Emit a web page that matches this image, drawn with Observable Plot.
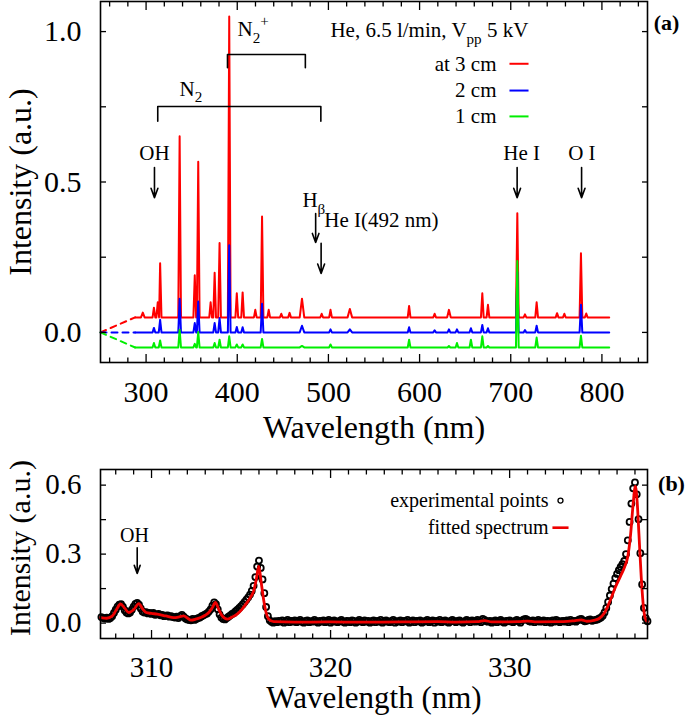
<!DOCTYPE html>
<html><head><meta charset="utf-8">
<script src="https://cdn.jsdelivr.net/npm/d3@7"></script>
<script src="https://cdn.jsdelivr.net/npm/@observablehq/plot@0.6"></script>
<style>
body{margin:0;background:#fff;}
#chart{width:685px;height:720px;background:#fff;}
#chart svg{display:block;}
</style></head><body><div id="chart"></div>
<script>
// ---------------- Panel (a) data ----------------
const seriesNames = ["at 3 cm", "2 cm", "1 cm"];
const seriesColors = ["#ff0000", "#0000ff", "#00ee00"];
const seriesBaselines = [0.05, 0, -0.05];
const spectrumRange = [288, 808];
const dashStart = 250;
// [wavelength nm, peak intensity (with offset), optional half width nm]
const peaks3cm = [[296.4,0.066,2],[308.6,0.082],[312.8,0.1],[315.4,0.23],[336.8,0.652],[353.4,0.19],[357.2,0.567],[370.8,0.1],[375.2,0.198],[380.6,0.297],[391.2,1.05],[399.5,0.13],[405.9,0.133],[419.8,0.075],[427.2,0.385],[434.5,0.075],[448.3,0.062],[457.4,0.065],[471,0.112,2.5],[492.6,0.062],[502.3,0.075],[523.5,0.078,2.5],[588.5,0.088],[616.5,0.062],[632.2,0.075,2],[668.8,0.13],[675,0.092],[707.2,0.396],[715.6,0.06],[728.4,0.1],[750.8,0.064],[758.8,0.062],[777,0.263],[782.8,0.063]];
const peaks2cm = [[308.6,0.015],[315.4,0.042],[336.8,0.112],[353.4,0.031],[357.2,0.103],[375.2,0.031],[380.6,0.048],[391.2,0.29],[399.5,0.018],[405.9,0.017],[427.2,0.095],[471,0.022,2.5],[502.3,0.01],[523.5,0.01,2.5],[588.5,0.017],[616.5,0.007],[632.2,0.01],[641,0.01],[656.3,0.014],[668.8,0.025],[675,0.014],[707.2,0.2],[715.6,0.008],[728.4,0.022],[777,0.092]];
const peaks1cm = [[308.6,-0.035],[315.4,-0.027],[336.8,0.009],[353.4,-0.038],[357.2,0.001],[375.2,-0.035],[380.6,-0.024],[391.2,-0.013],[399.5,-0.04],[405.9,-0.04],[427.2,-0.022],[471,-0.045,2.5],[502.3,-0.04],[588.5,-0.024],[632.2,-0.045],[641,-0.035],[656.3,-0.024],[668.8,-0.013],[675,-0.045],[707.2,0.237],[728.4,-0.017],[777,-0.011]];
const xMajorA = [300,400,500,600,700,800];
const xMinorA = [260,280,320,340,360,380,420,440,460,480,520,540,560,580,620,640,660,680,720,740,760,780,820,840];
const yTicksA = [0,0.25,0.5,0.75,1.0];
const yLabelsA = [0,0.5,1.0];

// ---------------- Panel (b) data ----------------
const expStart = 307.2, expStep = 0.1;
const expIntensityMilli = [
 26,22,20,24,18,22,30,44,
 58,72,80,82,72,56,46,42,46,58,
 72,84,88,80,64,50,46,48,42,44,
 40,44,36,38,40,34,36,30,32,34,
 28,30,26,24,28,22,30,36,28,20,
 16,14,12,18,14,18,22,24,30,34,
 38,42,50,60,76,90,82,60,38,24,
 18,16,22,28,34,40,44,52,58,66,
 74,82,92,102,112,124,140,162,200,246,
 272,240,190,130,70,30,12,6,2,8,
 4,10,6,12,2,8,14,4,10,6,
 12,4,8,14,6,2,10,12,4,8,
 6,14,8,2,10,6,12,4,8,14,
 2,8,12,6,4,10,14,6,2,10,
 8,4,12,10,2,6,14,8,4,12,
 6,10,2,8,12,4,10,6,14,2,
 8,12,6,4,10,14,2,8,6,12,
 4,10,8,14,2,6,12,4,10,8,
 12,2,6,10,14,4,8,12,2,10,
 6,14,4,8,12,6,2,10,14,8,
 4,10,12,6,2,8,14,10,4,12,
 8,6,14,10,4,18,14,8,6,10,
 2,8,12,4,10,14,6,2,10,8,
 12,6,4,10,14,8,2,12,16,18,
 14,8,6,12,4,10,14,6,8,12,
 4,10,8,2,12,6,14,10,4,8,
 10,6,12,4,14,8,10,6,12,16,
 18,12,8,10,14,16,10,12,14,16,
 20,24,32,46,66,92,120,148,172,196,
 214,230,244,256,270,300,360,440,520,586,
 612,560,452,304,168,66,22,8
];
const fitWavelength = [307.15,307.5,307.8,308.05,308.27,308.5,308.73,309.0,309.29,309.5,309.7,310.0,310.32,310.8,311.24,311.55,311.8,312.0,312.2,312.5,312.75,313.0,313.2,313.4,313.57,313.75,313.95,314.23,314.5,314.78,315.05,315.34,315.55,315.71,315.85,315.99,316.12,316.27,316.4,316.55,316.83,318,320,322,324,326,327,328.2,328.6,329.0,330.5,331.0,331.4,333.0,333.6,334.0,334.3,334.7,335.0,335.3,335.6,335.9,336.2,336.45,336.6,336.75,336.9,337.02,337.12,337.22,337.35,337.48,337.6,337.7];
const fitIntensity = [0.024,0.021,0.030,0.060,0.083,0.065,0.046,0.058,0.085,0.062,0.046,0.042,0.039,0.031,0.024,0.027,0.031,0.022,0.013,0.018,0.024,0.034,0.046,0.068,0.090,0.060,0.031,0.017,0.026,0.039,0.060,0.090,0.115,0.141,0.190,0.248,0.180,0.097,0.045,0.017,0.006,0.004,0.005,0.004,0.005,0.006,0.004,0.006,0.011,0.005,0.006,0.009,0.005,0.006,0.010,0.014,0.008,0.012,0.020,0.045,0.095,0.155,0.205,0.250,0.290,0.380,0.520,0.595,0.530,0.390,0.200,0.065,0.015,0.006];
const xMajorB = [310,320,330];
const xMinorB = [308,309,311,312,313,314,315,316,317,318,319,321,322,323,324,325,326,327,328,329,331,332,333,334,335,336,337];
const yTicksB = [0,0.15,0.3,0.45,0.6];
const yLabelsB = [0,0.3,0.6];
const legendB = ["experimental points", "fitted spectrum"];

// ---------------- helpers ----------------
const FONT = "'Liberation Serif', 'Times New Roman', serif";
function spectrum(peaks, base) {
  const pts = [[spectrumRange[0], base]];
  let lastX = spectrumRange[0];
  for (const [wl, top, hw0] of peaks.slice().sort((a, b) => a[0] - b[0])) {
    const hw = hw0 || 1.5;
    if (wl - hw > lastX) pts.push([wl - hw, base]);
    pts.push([wl, top]);
    pts.push([wl + hw, base]);
    lastX = wl + hw;
  }
  pts.push([spectrumRange[1], base]);
  return pts;
}
function richify(svg) {
  d3.select(svg).selectAll("text").each(function () {
    const t = this.textContent;
    if (!/[_^]\{/.test(t)) return;
    const fs = parseFloat(this.getAttribute("font-size") || this.parentNode.getAttribute("font-size") || 20);
    const sel = d3.select(this); sel.text(null);
    const re = /([_^])\{([^}]*)\}|([^_^]+)/g;
    let cur = 0, m;
    while ((m = re.exec(t))) {
      let target, size = null, str;
      if (m[3] !== undefined) { target = 0; str = m[3]; }
      else { target = m[1] === "_" ? 0.32 * fs : -0.5 * fs; size = 0.72 * fs; str = m[2]; }
      const ts = sel.append("tspan").text(str);
      if (target - cur !== 0) ts.attr("dy", target - cur);
      if (size) ts.attr("font-size", size);
      cur = target;
    }
  });
}
function frameAxes(xMajor, xMinor, yTicks, yLabels, yFmt, labelSize) {
  const blank = () => "";
  return [
    Plot.axisX({anchor: "bottom", ticks: xMajor, tickSize: -8, tickFormat: blank, label: null, strokeWidth: 1.3}),
    Plot.axisX({anchor: "top", ticks: xMajor, tickSize: -8, tickFormat: blank, label: null, strokeWidth: 1.3}),
    Plot.axisX({anchor: "bottom", ticks: xMinor, tickSize: -4.5, tickFormat: blank, label: null, strokeWidth: 1.3}),
    Plot.axisX({anchor: "top", ticks: xMinor, tickSize: -4.5, tickFormat: blank, label: null, strokeWidth: 1.3}),
    Plot.axisY({anchor: "left", ticks: yTicks, tickSize: -6, tickFormat: blank, label: null, strokeWidth: 1.3}),
    Plot.axisY({anchor: "right", ticks: yTicks, tickSize: -6, tickFormat: blank, label: null, strokeWidth: 1.3}),
    Plot.axisX({anchor: "bottom", ticks: xMajor, tickSize: 0, tickPadding: 18, tickFormat: d => String(d), fontSize: labelSize, fontVariant: "normal", label: null}),
    Plot.axisY({anchor: "left", ticks: yLabels, tickSize: 0, tickPadding: 19, tickFormat: yFmt, fontSize: labelSize, fontVariant: "normal", label: null}),
    Plot.frame({stroke: "black", strokeWidth: 1.6})
  ];
}

// ---------------- Panel (a) ----------------
const annA = {fontSize: 21, fill: "black"};
const bracket = (x1, x2, yTop, yEnd) => [[x1, yEnd], [x1, yTop], [x2, yTop], [x2, yEnd]];
const plotA = Plot.plot({
  width: 685, height: 450,
  marginLeft: 100, marginRight: 38, marginTop: 1, marginBottom: 88,
  x: {domain: [250, 850]},
  y: {domain: [-0.1, 1.1]},
  style: {fontFamily: FONT, fontSize: "20px", color: "black", background: "white"},
  marks: [
    ...seriesNames.map((n, i) => Plot.line([[dashStart, 0], [spectrumRange[0], seriesBaselines[i]]], {stroke: seriesColors[i], strokeWidth: 2, strokeDasharray: "6,5"})),
    ...[peaks3cm, peaks2cm, peaks1cm].map((p, i) => Plot.line(spectrum(p, seriesBaselines[i]), {stroke: seriesColors[i], strokeWidth: 2, strokeLinejoin: "round", clip: true})),
    // brackets
    Plot.line(bracket(312.8, 491.7, 0.751, 0.702), {stroke: "black", strokeWidth: 1.6}),
    Plot.line(bracket(389.3, 474.7, 0.924, 0.88), {stroke: "black", strokeWidth: 1.6}),
    Plot.text(["N_{2}"], {x: 336.7, y: 0.809, textAnchor: "start", ...annA}),
    Plot.text(["N_{2}^{+}"], {x: 400.3, y: 1.007, textAnchor: "start", ...annA}),
    // title + legend
    Plot.text(["He, 6.5 l/min, V_{pp} 5 kV"], {x: 719.3, y: 1.004, textAnchor: "end", ...annA}),
    ...seriesNames.map((n, i) => Plot.text([n], {x: 684.4, y: [0.893, 0.804, 0.718][i], textAnchor: "end", ...annA})),
    ...seriesNames.map((n, i) => Plot.link([n], {x1: 698.6, x2: 719.5, y1: [0.893, 0.804, 0.718][i], y2: [0.893, 0.804, 0.718][i], stroke: seriesColors[i], strokeWidth: 2})),
    // line labels + arrows
    Plot.text(["OH"], {x: 309.2, y: 0.596, ...annA}),
    Plot.text(["He I"], {x: 712, y: 0.596, ...annA}),
    Plot.text(["O I"], {x: 778, y: 0.596, ...annA}),
    Plot.text(["H_{β}"], {x: 471.5, y: 0.438, textAnchor: "start", ...annA}),
    Plot.text(["He I(492 nm)"], {x: 495.5, y: 0.374, textAnchor: "start", ...annA}),
    Plot.arrow([309.2, 707, 777.7], {x1: d => d, x2: d => d, y1: 0.548, y2: 0.448, stroke: "black", strokeWidth: 1.6, headLength: 10, headAngle: 40}),
    Plot.arrow([486], {x1: d => d, x2: d => d, y1: 0.395, y2: 0.299, stroke: "black", strokeWidth: 1.6, headLength: 10, headAngle: 40}),
    Plot.arrow([492], {x1: d => d, x2: d => d, y1: 0.296, y2: 0.196, stroke: "black", strokeWidth: 1.6, headLength: 10, headAngle: 40}),
    ...frameAxes(xMajorA, xMinorA, yTicksA, yLabelsA, d3.format(".1f"), 30),
    Plot.text(["Wavelength (nm)"], {frameAnchor: "bottom", dy: 65, fontSize: 32, lineAnchor: "middle", textAnchor: "middle"}),
    Plot.text(["Intensity (a.u.)"], {frameAnchor: "left", dx: -80, rotate: -90, fontSize: 32, lineAnchor: "middle", textAnchor: "middle"}),
    Plot.text(["(a)"], {frameAnchor: "top-right", dx: 19, dy: 21, fontSize: 22, fontWeight: "bold", textAnchor: "middle", lineAnchor: "middle"})
  ]
});

// ---------------- Panel (b) ----------------
const expPoints = expIntensityMilli.map((v, i) => [expStart + i * expStep, v / 1000]);
const fitPoints = fitWavelength.map((w, i) => [w, fitIntensity[i]]);
const plotB = Plot.plot({
  width: 685, height: 270,
  marginLeft: 100, marginRight: 38, marginTop: 19, marginBottom: 82,
  x: {domain: [307.15, 337.7]},
  y: {domain: [-0.067, 0.668]},
  style: {fontFamily: FONT, fontSize: "20px", color: "black", background: "white"},
  marks: [
    Plot.dot(expPoints, {x: d => d[0], y: d => d[1], r: 3, stroke: "black", strokeWidth: 1.8, fill: "none"}),
    Plot.line(fitPoints, {x: d => d[0], y: d => d[1], stroke: "#ee0000", strokeWidth: 2.8, curve: "monotone-x"}),
    Plot.text(["OH"], {x: 309.05, y: 0.38, fontSize: 20}),
    Plot.arrow([309.2], {x1: d => d, x2: d => d, y1: 0.328, y2: 0.216, stroke: "black", strokeWidth: 1.6, headLength: 10, headAngle: 40}),
    Plot.text([legendB[0]], {x: 332.17, y: 0.533, textAnchor: "end", fontSize: 20}),
    Plot.dot([legendB[0]], {x: 332.84, y: 0.533, r: 2.5, stroke: "black", strokeWidth: 1.3, fill: "none"}),
    Plot.text([legendB[1]], {x: 332.17, y: 0.415, textAnchor: "end", fontSize: 20}),
    Plot.link([legendB[1]], {x1: 332.39, x2: 333.29, y1: 0.415, y2: 0.415, stroke: "#ee0000", strokeWidth: 2.6}),
    ...frameAxes(xMajorB, xMinorB, yTicksB, yLabelsB, d3.format(".1f"), 29),
    Plot.text(["Wavelength (nm)"], {frameAnchor: "bottom", dy: 60, fontSize: 31, lineAnchor: "middle", textAnchor: "middle"}),
    Plot.text(["Intensity (a.u.)"], {frameAnchor: "left", dx: -80, dy: -6, rotate: -90, fontSize: 30, lineAnchor: "middle", textAnchor: "middle"}),
    Plot.text(["(b)"], {frameAnchor: "top-right", dx: 24, dy: 14, fontSize: 22, fontWeight: "bold", textAnchor: "middle", lineAnchor: "middle"})
  ]
});

richify(plotA);
richify(plotB);
const chart = document.getElementById("chart");
chart.appendChild(plotA);
chart.appendChild(plotB);
</script>
</body></html>
